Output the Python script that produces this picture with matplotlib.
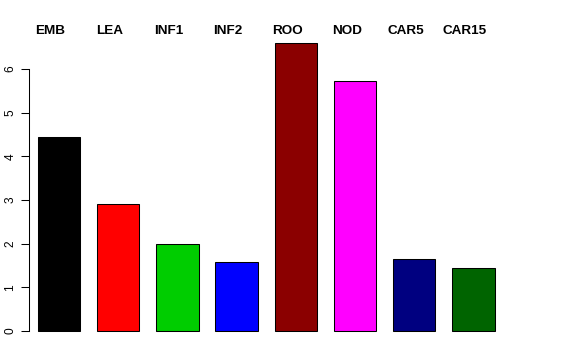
import matplotlib
matplotlib.use("Agg")
import matplotlib.pyplot as plt
import matplotlib.transforms as mtransforms
import numpy as np

plt.rcParams['font.family'] = ['Liberation Sans', 'DejaVu Sans']

# Data
tissues = ['EMB', 'LEA', 'INF1', 'INF2', 'ROO', 'NOD', 'CAR5', 'CAR15']
values = [4.44, 2.91, 1.99, 1.58, 6.59, 5.72, 1.65, 1.44]
colors = ['#000000', '#FF0000', '#00CD00', '#0000FF', '#8B0000', '#FF00FF', '#000080', '#006400']

fig = plt.figure(figsize=(5.76, 3.6), dpi=100)
ax = fig.add_axes([0.0503, 0.0486, 0.8403, 0.8625])

x = 0.9 + 1.4 * np.arange(len(tissues))
ax.bar(x, values, width=1.0, color=colors, edgecolor='black', linewidth=0.75)

ax.set_xlim(0.191, 11.632)
ax.set_ylim(-0.264, 6.85)

for s in ['top', 'right', 'bottom']:
    ax.spines[s].set_visible(False)
ax.spines['left'].set_bounds(0, 6)
ax.spines['left'].set_linewidth(0.75)
ax.set_xticks([])
ax.set_yticks(range(0, 7))
ax.tick_params(axis='y', length=6, width=0.75, labelsize=8.6, pad=3)
for lbl in ax.get_yticklabels():
    lbl.set_rotation(90)
    lbl.set_va('center')

# tissue names across the top
trans = mtransforms.blended_transform_factory(ax.transData, fig.transFigure)
for xi, name in zip(x, tissues):
    ax.text(xi - 0.2, 0.914, name, transform=trans,
            ha='center', va='center', fontsize=9.7, fontweight='bold')

plt.savefig('out.png', dpi=100)
